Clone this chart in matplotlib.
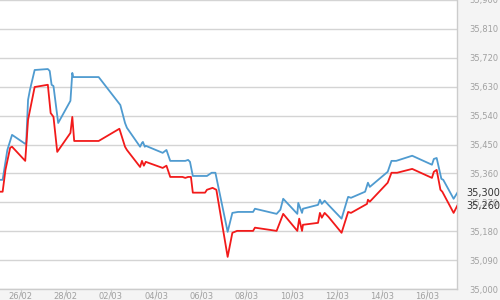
import numpy as np
import pandas as pd
import matplotlib
matplotlib.use('Agg')
import matplotlib.pyplot as plt
import matplotlib.dates as mdates
from matplotlib.ticker import FuncFormatter

# 时间起点（26/02 00:00），数据按小时偏移
start = pd.Timestamp('2019-02-26')

# 蓝线（上方）
blue_hours = [-22, -19, -14, -9, 5, 6, 8, 10, 15, 29, 31, 33, 35, 40, 53, 55, 56, 83,
              106, 111, 113, 127, 129, 130, 132, 133, 151, 155, 159, 175, 178, 180, 183,
              198, 203, 207, 220, 225, 231, 247, 249, 272, 276, 279, 294, 295, 299, 300,
              316, 318, 320, 323, 327, 341, 347, 348, 351, 366, 369, 371, 390, 394, 399,
              416, 437, 439, 442, 447, 449, 460, 464]
blue_values = [35340, 35340, 35433, 35480, 35452, 35455, 35589, 35620, 35682, 35685, 35679,
               35636, 35632, 35517, 35586, 35673, 35660, 35660, 35573, 35517, 35502, 35443,
               35455, 35458, 35443, 35446, 35424, 35433, 35399, 35399, 35402, 35396, 35352,
               35352, 35362, 35362, 35178, 35237, 35240, 35240, 35250, 35234, 35247, 35281,
               35234, 35268, 35237, 35250, 35262, 35278, 35265, 35275, 35262, 35219, 35278,
               35287, 35284, 35303, 35331, 35318, 35365, 35399, 35399, 35415, 35387, 35405,
               35408, 35343, 35340, 35281, 35300]

# 红线（下方）
red_hours = [-22, -19, -16, -11, -9, 5, 8, 15, 29, 32, 35, 39, 53, 55, 57, 83, 105, 111,
             113, 127, 129, 131, 133, 151, 155, 159, 172, 175, 178, 181, 183, 196, 198, 204,
             208, 220, 225, 230, 247, 249, 272, 279, 294, 296, 299, 300, 316, 318, 320, 323,
             327, 341, 348, 351, 368, 369, 371, 390, 394, 400, 416, 437, 439, 442, 446, 448,
             460, 464]
red_values = [35303, 35303, 35371, 35440, 35443, 35399, 35527, 35629, 35636, 35548, 35536,
              35427, 35486, 35536, 35461, 35461, 35499, 35443, 35433, 35380, 35399, 35384,
              35396, 35377, 35384, 35349, 35349, 35346, 35349, 35349, 35300, 35300, 35309,
              35315, 35309, 35100, 35175, 35181, 35181, 35191, 35181, 35234, 35181, 35219,
              35181, 35200, 35206, 35237, 35222, 35237, 35225, 35175, 35240, 35237, 35265,
              35278, 35272, 35331, 35362, 35362, 35374, 35346, 35365, 35371, 35309, 35303,
              35237, 35260]

y_ticks = [35000, 35090, 35180, 35270, 35360, 35450, 35540, 35630, 35720, 35810, 35900]
x_ticks = pd.date_range('2019-02-26', periods=10, freq='2D')

blue_t = start + pd.to_timedelta(blue_hours, unit='h')
red_t = start + pd.to_timedelta(red_hours, unit='h')

fig = plt.figure(figsize=(5, 3), dpi=100, facecolor='#f4f4f4')
ax = fig.add_axes([0, 11 / 300, 457 / 500, 289 / 300])
ax.set_facecolor('white')

ax.plot(blue_t, blue_values, color='#4f9bd0', lw=1.3, zorder=3)
ax.plot(red_t, red_values, color='#f21a1a', lw=1.3, zorder=3)

ax.set_ylim(35000, 35900)
ax.set_xlim(start - pd.Timedelta(hours=21.8), start + pd.Timedelta(hours=463.6))

ax.yaxis.tick_right()
ax.set_yticks(y_ticks)
ax.yaxis.set_major_formatter(FuncFormatter(lambda v, p: f'{v:,.0f}'))
ax.tick_params(axis='y', length=0, pad=9, labelsize=6, labelcolor='#a0a0a0')

ax.set_xticks(x_ticks)
ax.xaxis.set_major_formatter(mdates.DateFormatter('%d/%m'))
ax.tick_params(axis='x', length=5, width=0.8, color='#cccccc', pad=-3,
               labelsize=6, labelcolor='#a0a0a0')

ax.grid(axis='y', color='#d4d4d4', lw=1)
ax.set_axisbelow(True)
for side in ['left', 'top']:
    ax.spines[side].set_visible(False)
for side in ['right', 'bottom']:
    ax.spines[side].set_color('#cccccc')
    ax.spines[side].set_linewidth(1)

# 最新值标签
for v in [blue_values[-1], red_values[-1]]:
    ax.annotate(f'{v:,.0f}', xy=(1.0, v), xycoords=('axes fraction', 'data'),
                xytext=(7, 0), textcoords='offset points', ha='left', va='center',
                fontsize=7, color='#333333', annotation_clip=False)

fig.savefig('out.png', dpi=100, facecolor=fig.get_facecolor())
